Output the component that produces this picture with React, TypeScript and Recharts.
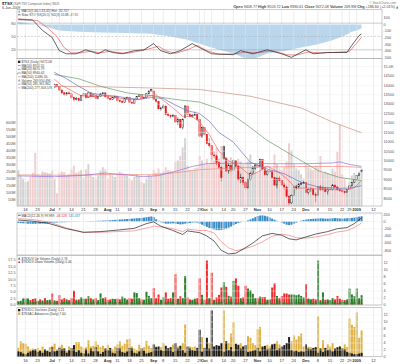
import React from 'react';
import { ComposedChart, Bar, Line, Area, XAxis, YAxis, ReferenceLine, Cell } from 'recharts';

const FONT = '"Liberation Sans", Arial, sans-serif';

// $TSX daily sessions, 11-Jun-2008 .. 6-Jan-2009
const OPEN = [
  14600, 14640, 14720, 14900, 14950, 15060, 14990, 14880, 14700, 14720, 14600, 14680, 14350, 14420,
  14350, 13900, 14050,
  13950, 13750, 13600, 13500, 13600, 13550, 13350, 13250, 13300, 13200, 13450, 13550, 13350, 13600, 13400, 13500, 13300, 13400, 13550,
  13600, 13400, 13300, 13250, 13350, 13400, 13200, 13150, 13100, 13300, 13350, 13100, 13050, 13250, 13400, 13500, 13300, 13350, 13550, 13700,
  13700, 13250, 13150, 12750, 12800, 12900, 12450, 12400, 12350, 12400, 12050, 12200, 11750, 12300, 12900, 12450, 12350, 12400, 12450,
  12200, 11300, 11750, 11400, 10900, 10800, 10300, 10250, 9900, 9650, 10750, 10100, 9450, 9750, 9500, 10000, 9700, 9000, 9100, 8850, 8550, 9000, 9300, 9600,
  9760, 9700, 10050, 9550, 9250, 9450, 9400, 9100, 8700, 9050, 8950, 8700, 8600, 8100, 7750, 8150, 8600, 8600, 8750, 8800,
  8850, 8300, 8450, 8500, 8200, 8150, 8600, 8450, 8550, 8350, 8500, 8450, 8700, 8600, 8450, 8400, 8350, 8300, 8450, 8650, 8850, 8990, 9200, 9408,
];
const HIGH = [
  14720, 14760, 14950, 15000, 15100, 15150, 15020, 14900, 14780, 14750, 14740, 14690, 14480, 14520,
  14380, 14100, 14080,
  13980, 13780, 13650, 13650, 13680, 13580, 13400, 13380, 13350, 13480, 13600, 13560, 13620, 13610, 13540, 13510, 13430, 13580, 13650,
  13620, 13420, 13350, 13380, 13450, 13410, 13250, 13200, 13320, 13400, 13360, 13150, 13280, 13430, 13540, 13510, 13400, 13580, 13720, 13820,
  13720, 13300, 13160, 12860, 13000, 12910, 12550, 12450, 12480, 12410, 12300, 12210, 12250, 12950, 12920, 12550, 12480, 12600, 12460,
  12210, 11800, 11780, 11420, 11200, 10820, 10500, 10300, 10100, 9700, 10800, 10150, 9850, 9800, 10050, 10020, 9720, 9300, 9150, 8900, 9050, 9400, 9700, 9800,
  9850, 10100, 10060, 9560, 9500, 9600, 9420, 9120, 9100, 9150, 8960, 8800, 8620, 8150, 8200, 8650, 8700, 8800, 8850, 8900,
  8860, 8500, 8560, 8510, 8300, 8650, 8700, 8600, 8560, 8520, 8550, 8750, 8710, 8620, 8480, 8420, 8380, 8470, 8680, 8870, 9020, 9230, 9330, 9503,
];
const LOW = [
  14560, 14600, 14700, 14850, 14900, 14950, 14820, 14650, 14620, 14560, 14570, 14330, 14300, 14380,
  13850, 13850, 13900,
  13700, 13550, 13450, 13450, 13480, 13300, 13150, 13200, 13150, 13180, 13420, 13300, 13330, 13380, 13370, 13260, 13250, 13380, 13500,
  13350, 13250, 13200, 13220, 13300, 13150, 13100, 13050, 13080, 13260, 13050, 13000, 13020, 13220, 13380, 13260, 13280, 13330, 13520, 13680,
  13200, 13080, 12720, 12650, 12780, 12420, 12350, 12250, 12300, 12000, 11900, 11700, 11650, 12250, 12400, 12300, 12280, 12380, 12150,
  11250, 11200, 11350, 10850, 10700, 10000, 10100, 9750, 9600, 8900, 10050, 9400, 9300, 9400, 9480, 9650, 8950, 8800, 8700, 8450, 8500, 8950, 9250, 9500,
  9600, 9680, 9500, 9200, 9200, 9350, 9050, 8650, 8500, 8900, 8650, 8450, 8050, 7650, 7700, 8150, 8450, 8550, 8700, 8780,
  8250, 8200, 8350, 8150, 7800, 8150, 8400, 8400, 8300, 8200, 8400, 8420, 8550, 8400, 8350, 8300, 8250, 8290, 8440, 8640, 8830, 8980, 9180, 9380,
];
const CLOSE = [
  14650, 14700, 14900, 14930, 15050, 15000, 14880, 14700, 14720, 14600, 14680, 14350, 14420, 14470,
  13900, 14050, 13950,
  13750, 13600, 13500, 13600, 13550, 13350, 13250, 13300, 13200, 13450, 13550, 13350, 13600, 13400, 13500, 13300, 13400, 13550, 13600,
  13400, 13300, 13250, 13350, 13400, 13200, 13150, 13100, 13300, 13350, 13100, 13050, 13250, 13400, 13500, 13300, 13350, 13550, 13700, 13770,
  13250, 13150, 12750, 12800, 12900, 12450, 12400, 12350, 12400, 12050, 12200, 11750, 12200, 12900, 12450, 12350, 12400, 12450, 12200,
  11300, 11750, 11400, 10900, 10800, 10300, 10250, 9900, 9650, 9100, 10100, 9450, 9750, 9500, 10000, 9700, 9000, 9100, 8850, 8550, 9000, 9300, 9600, 9760,
  9700, 10050, 9550, 9250, 9450, 9400, 9100, 8700, 9050, 8950, 8700, 8600, 8100, 7750, 8150, 8600, 8600, 8750, 8800, 8850,
  8300, 8450, 8500, 8200, 8150, 8600, 8450, 8550, 8350, 8500, 8450, 8700, 8600, 8450, 8400, 8350, 8300, 8450, 8650, 8850, 8990, 9200, 9290, 9472,
];
// millions of shares
const VOLUME = [
  258, 215, 200, 175, 180, 210, 240, 382, 230, 220, 250, 245, 240, 235,
  255, 200, 95, 240, 250, 245, 220, 230, 265, 290, 240, 250, 260, 205,
  265, 300, 230, 210, 200, 220, 255, 280, 265, 200, 230, 220, 210, 235,
  250, 240, 225, 220, 200, 185, 210, 230, 215, 175, 165, 200, 225, 215,
  260, 240, 270, 235, 250, 280, 260, 255, 245, 320, 330, 360, 420, 486,
  290, 260, 255, 270, 280, 360, 330, 300, 340, 300, 380, 330, 420, 320,
  430, 400, 350, 330, 350, 280, 290, 340, 320, 300, 310, 320, 370, 290,
  310, 240, 280, 270, 290, 250, 240, 260, 370, 300, 270, 260, 280, 320,
  450, 400, 300, 270, 260, 230, 200, 300, 280, 270, 260, 290, 280, 360,
  240, 250, 240, 230, 270, 250, 390, 584, 230, 200, 110, 180, 220, 240,
  200, 250, 270,
];

const DATE_TICKS: [number, string][] = [
  [3, '16'], [8, '23'], [14, 'Jul'], [17, '7'], [22, '14'], [27, '21'], [32, '28'],
  [37, 'Aug'], [41, '11'], [46, '18'], [51, '25'], [56, 'Sep'], [60, '8'], [65, '15'],
  [70, '22'], [75, '29'], [77, 'Oct'], [80, '6'], [85, '14'], [89, '20'], [94, '27'],
  [99, 'Nov'], [104, '10'], [109, '17'], [114, '24'], [119, 'Dec'], [124, '8'], [129, '15'],
  [134, '22'], [137, '29'], [140, '2009'], [147, '12'],
];
const MONTHS = ['Jul', 'Aug', 'Sep', 'Oct', 'Nov', 'Dec', '2009'];

// price overlays, read at a handful of sessions
const MA10: [number, number][] = [
  [14, 14420], [18, 14000], [22, 13720], [26, 13450], [30, 13400], [34, 13450], [38, 13420], [42, 13320],
  [46, 13230], [50, 13260], [54, 13420], [57, 13500], [60, 13200], [64, 12800], [68, 12350], [72, 12350],
  [75, 12050], [79, 11400], [83, 10500], [87, 10000], [91, 9750], [96, 9200], [100, 9450], [103, 9700],
  [107, 9450], [111, 9050], [115, 8520], [119, 8550], [123, 8500], [127, 8480], [131, 8450], [135, 8440],
  [139, 8560], [142, 8920],
];
const MA20: [number, number][] = [
  [14, 14750], [20, 14350], [25, 13950], [30, 13600], [35, 13480], [40, 13430], [45, 13330], [50, 13250],
  [55, 13350], [60, 13300], [65, 12950], [70, 12650], [75, 12500], [79, 12100], [83, 11500], [89, 10980],
  [96, 9915], [103, 9550], [110, 9300], [117, 8850], [124, 8600], [133, 8520], [138, 8550], [142, 8670],
];
const MA50: [number, number][] = [
  [14, 14600], [25, 14350], [34, 13950], [45, 13600], [55, 13450], [65, 13250], [75, 13110], [82, 12800],
  [89, 12400], [96, 11760], [103, 11070], [110, 10540], [117, 10000], [124, 9470], [133, 9100], [142, 8940],
];
const MA200: [number, number][] = [
  [14, 13950], [35, 13920], [55, 13860], [75, 13780], [96, 13420], [117, 12800], [130, 12050], [142, 11480],
];
const VOL_MA50: [number, number][] = [
  [0, 218], [15, 212], [27, 222], [36, 238], [45, 225], [52, 212], [58, 220], [66, 255], [72, 285],
  [78, 305], [90, 308], [100, 306], [110, 304], [120, 305], [130, 310], [133, 318], [137, 300], [142, 285],
];
const VOL_MA200: [number, number][] = [
  [0, 225], [20, 222], [40, 228], [55, 226], [65, 240], [75, 262], [90, 275], [105, 282], [120, 285], [135, 285], [142, 278],
];

// top panel: slow stochastic (left scale) and shaded histogram (right scale)
const STO_K: [number, number][] = [
  [0, 88], [6, 87], [10, 64], [14, 48], [17, 18], [20, 11], [24, 11], [28, 20], [33, 11], [36, 20], [39, 14],
  [43, 11], [48, 18], [52, 20], [56, 34], [59, 18], [63, 11], [67, 18], [72, 34], [75, 25], [80, 11], [89, 9],
  [92, 18], [97, 11], [103, 20], [109, 11], [113, 3], [119, 20], [122, 11], [128, 14], [136, 14], [138, 30],
  [141, 52], [142, 56],
];
const STO_D: [number, number][] = [
  [0, 90], [8, 86], [12, 70], [16, 50], [19, 25], [22, 13], [26, 13], [30, 17], [34, 13], [38, 17], [41, 14],
  [45, 12], [50, 17], [54, 22], [58, 28], [61, 18], [65, 12], [70, 20], [74, 30], [78, 18], [83, 10], [90, 11],
  [94, 15], [99, 13], [105, 18], [111, 9], [115, 8], [120, 15], [125, 13], [130, 14], [137, 16], [140, 35], [142, 48],
];
const TOP_HIST: [number, number][] = [
  [0, 40], [5, 10], [8, 0], [12, -40], [17, -90], [25, -110], [34, -120], [45, -130], [55, -140], [63, -180],
  [70, -230], [75, -290], [82, -370], [89, -440], [94, -515], [98, -515], [103, -440], [110, -400], [117, -350],
  [124, -300], [130, -240], [135, -170], [138, -110], [140, -90], [142, -60],
];

// MACD(12,26,9)
const MACD: [number, number][] = [
  [0, 40], [6, 10], [13, -60], [20, -200], [27, -300], [34, -280], [41, -240], [48, -190], [53, -60], [56, -10],
  [59, -130], [64, -250], [68, -360], [70, -260], [75, -310], [78, -400], [81, -540], [84, -800], [87, -900],
  [90, -880], [93, -770], [97, -600], [101, -400], [105, -330], [109, -380], [112, -480], [115, -510], [119, -430],
  [123, -350], [128, -280], [132, -200], [136, -170], [139, -60], [142, 100],
];
const SIGNAL: [number, number][] = [
  [0, 80], [6, 55], [13, -20], [20, -180], [27, -300], [34, -300], [41, -280], [48, -260], [53, -180], [56, -130],
  [59, -150], [64, -200], [68, -280], [70, -210], [75, -250], [78, -250], [81, -320], [84, -560], [87, -730],
  [90, -810], [93, -765], [97, -690], [101, -565], [105, -410], [109, -350], [112, -380], [115, -450], [119, -460],
  [123, -430], [128, -365], [132, -290], [136, -255], [139, -170], [142, -46],
];
const HIST = [
  -40, -45, -50, -55, -60, -62, -65, -65, -62, -60, -55, -50, -45, -40,
  -35, -30, -28, -25, -22, -20, -18, -15, -12, -10, -8, -5, -3,
  0, 5, 10, 12, 15, 18, 20, 22, 25, 28, 30, 35,
  40, 45, 50, 55, 60, 65, 70, 75, 80, 85, 90, 95, 100, 110, 120, 130, 140, 120,
  60, 20, -20, -40, -60, -60, -55,
  -50, -60, -70, -80, -75, -60, -50, -40, -30, -25, -30,
  -60, -90, -120, -150, -180, -200, -220, -240, -240, -235, -220, -200, -170, -140, -100,
  -70, -40, -20, -5, 10, 30, 60, 90,
  120, 150, 165, 170, 160, 140, 110, 80, 50, 20, 0,
  -30, -60, -90, -100, -90, -60, -30, 0,
  20, 40, 55, 65, 70, 75, 80, 85, 90, 85, 80, 80, 85, 90, 95, 90, 85, 80, 85, 90, 95, 100, 110,
  120, 135, 146,
];

// up / down volume panel
const UP_VOL = [
  1.0, 1.2, 1.9, 1.9, 1.9, 0.8, 0.8, 0.9, 1.2, 0.8,
  1.3, 0.7, 1.4, 1.5, 0.6, 1.3, 0.7, 0.6, 0.8, 0.9,
  1.6, 0.9, 0.8, 0.5, 1.5, 0.9, 2.2, 1.8, 0.8, 2.5,
  0.9, 1.6, 0.8, 1.4, 3.3, 2.0, 0.8, 0.9, 1.0, 1.8,
  1.7, 0.8, 0.9, 2.4, 2.0, 1.6, 0.7, 0.8, 3.6, 3.4,
  2.0, 0.8, 1.5, 3.8, 2.6, 2.0, 0.5, 0.8, 0.6, 1.5,
  2.3, 0.6, 1.0, 0.9, 3.6, 0.5, 1.8, 0.6, 2.0, 8.3,
  0.7, 1.0, 1.5, 1.8, 0.7, 0.5, 2.9, 0.7, 0.5, 2.0,
  0.5, 1.3, 0.7, 0.8, 1.0, 6.5, 0.6, 2.6, 1.0, 6.9,
  0.6, 0.7, 2.0, 0.9, 0.6, 4.7, 4.2, 3.2, 2.0, 0.9,
  2.4, 0.6, 0.7, 1.5, 1.4, 0.6, 0.5, 2.6, 1.2, 0.7,
  0.8, 0.6, 0.5, 3.0, 3.0, 2.8, 3.0, 2.6, 2.2, 0.5,
  1.8, 1.6, 0.7, 1.0, 12.7, 0.9, 3.6, 0.8, 1.6, 1.4,
  2.0, 0.8, 0.6, 0.8, 0.9, 0.9, 1.6, 4.7, 3.0, 2.5,
  4.7, 2.0, 2.8,
];
const DOWN_VOL = [
  1.0, 0.5, 0.6, 0.7, 0.6, 1.4, 1.7, 1.9, 1.0, 1.6,
  0.8, 2.0, 1.0, 0.9, 3.3, 0.9, 1.2, 2.8, 1.6, 2.0,
  0.8, 1.4, 2.0, 4.1, 1.0, 1.6, 0.6, 0.7, 1.8, 0.6,
  2.0, 0.9, 2.0, 1.0, 0.6, 1.2, 2.2, 1.5, 1.6, 0.9,
  0.8, 1.8, 1.6, 0.8, 0.7, 1.0, 2.0, 1.8, 0.6, 0.7,
  1.0, 1.6, 1.0, 0.6, 0.8, 0.9, 4.8, 2.0, 3.0, 1.2,
  1.0, 3.6, 1.8, 2.0, 0.8, 8.8, 1.5, 2.5, 1.0, 0.8,
  2.2, 1.6, 1.2, 1.0, 2.0, 7.6, 0.8, 1.5, 12.7, 1.6,
  9.2, 1.5, 2.2, 2.9, 5.0, 1.5, 5.2, 1.0, 2.4, 0.8,
  7.6, 5.5, 1.2, 2.2, 5.5, 0.7, 0.8, 0.9, 1.0, 2.0,
  0.8, 2.3, 2.3, 1.0, 1.6, 5.0, 6.2, 1.2, 2.0, 2.6,
  3.3, 3.3, 3.0, 0.8, 0.6, 1.0, 0.8, 0.9, 1.0, 6.0,
  1.8, 1.5, 1.8, 1.6, 0.5, 1.4, 0.8, 1.5, 1.2, 1.3,
  0.9, 1.6, 2.6, 1.8, 1.5, 1.4, 0.9, 0.6, 0.8, 0.9,
  0.6, 1.2, 0.5,
];

// advances (gold) / declines (black) panel
const ADV = [
  2.6, 4.5, 4.0, 3.8, 3.0, 2.2, 2.4, 1.8, 2.6, 2.0,
  3.0, 2.0, 1.5, 2.8, 3.2, 3.8, 2.2, 3.0, 3.5, 2.5,
  1.8, 3.0, 2.5, 3.4, 4.3, 4.3, 3.0, 2.5, 2.8, 4.8,
  3.0, 3.2, 4.5, 3.5, 2.8, 3.2, 2.4, 3.5, 2.5, 2.2,
  3.0, 3.6, 4.5, 3.2, 3.8, 5.0, 5.2, 3.0, 2.4, 2.0,
  3.5, 2.5, 2.8, 4.6, 3.2, 2.6, 2.0, 3.0, 2.2, 2.8,
  4.0, 2.0, 2.5, 2.2, 3.6, 2.0, 3.0, 2.2, 4.0, 9.3,
  2.4, 3.0, 2.8, 3.0, 2.4, 2.2, 5.7, 2.5, 2.0, 4.0,
  1.8, 3.0, 2.6, 2.2, 2.5, 13.3, 2.5, 4.0, 6.7, 10.0,
  2.5, 2.8, 4.0, 3.0, 2.2, 6.0, 5.5, 4.0, 3.4, 8.0,
  8.6, 2.6, 2.8, 3.5, 3.2, 2.5, 2.0, 4.5, 3.6, 2.4,
  2.6, 2.0, 2.4, 4.5, 6.2, 5.0, 6.0, 6.7, 3.0, 2.0,
  3.0, 2.8, 2.4, 2.8, 11.6, 2.5, 4.8, 2.5, 3.6, 3.0,
  4.0, 2.4, 2.5, 3.0, 2.6, 3.6, 2.8, 11.0, 9.2, 8.6,
  12.7, 5.5, 7.6,
];
const DEC = [
  1.6, 1.4, 1.0, 0.8, 1.2, 1.6, 2.0, 2.2, 1.5, 1.8,
  1.2, 2.2, 1.8, 1.4, 2.8, 1.6, 1.8, 2.6, 2.2, 2.4,
  1.2, 2.0, 2.5, 3.4, 1.4, 2.0, 1.2, 1.0, 2.2, 1.0,
  2.4, 1.6, 2.8, 1.6, 0.9, 1.4, 2.4, 2.0, 2.6, 1.2,
  1.0, 2.5, 2.4, 1.4, 1.2, 1.6, 2.6, 2.4, 1.2, 1.0,
  1.6, 2.4, 1.8, 1.0, 1.2, 1.4, 3.6, 2.8, 3.0, 2.0,
  1.8, 3.2, 2.5, 2.8, 1.4, 4.0, 2.4, 3.2, 2.0, 1.2,
  3.0, 2.4, 2.0, 1.8, 2.6, 7.8, 1.5, 2.6, 5.5, 2.4,
  13.3, 3.0, 3.4, 3.2, 4.0, 1.5, 4.5, 2.0, 2.8, 1.6,
  3.8, 3.5, 2.4, 3.0, 3.4, 1.4, 1.6, 1.8, 2.0, 2.6,
  1.6, 3.0, 3.2, 2.2, 2.4, 3.6, 3.8, 2.0, 2.4, 3.0,
  3.4, 4.0, 5.7, 2.0, 1.6, 1.8, 1.4, 1.6, 1.5, 3.6,
  2.4, 2.2, 2.6, 2.8, 1.2, 2.4, 1.4, 2.6, 2.0, 2.2,
  1.6, 2.4, 2.8, 3.0, 2.4, 2.2, 1.4, 1.2, 1.0, 0.8,
  0.8, 1.0, 1.2,
];

const PRICE_TICKS = [8000, 8500, 9000, 9500, 10000, 10500, 11000, 11500, 12000, 12500, 13000, 13500, 14000, 14500, 15000];
const VOL_TICKS = [50, 100, 150, 200, 250, 300, 350, 400, 450, 500, 550, 600];
const STO_TICKS = [20, 50, 80];
const TOP_R_TICKS = [100, 0, -100, -200, -300, -400, -500];
const MACD_TICKS = [200, 0, -200, -400, -600, -800];
const BREADTH_TICKS = [0, 2, 4, 6, 8, 10, 12];
const UPDN_L_TICKS = [0, 2.5, 5, 7.5, 10, 12.5, 15, 17.5];

const N = CLOSE.length;
const FUTURE = 8; // empty sessions to the right of the last bar

const rows: any[] = Array.from({ length: N + FUTURE }, (_, i) => {
  const r: any = { i };
  if (i < N) {
    r.o = OPEN[i];
    r.h = HIGH[i];
    r.l = LOW[i];
    r.c = CLOSE[i];
    r.pc = i > 0 ? CLOSE[i - 1] : OPEN[i];
    r.rng = [LOW[i], HIGH[i]];
    r.vol = VOLUME[i];
    r.hist = HIST[i];
    r.up = UP_VOL[i];
    r.dn = DOWN_VOL[i];
    r.adv = ADV[i];
    r.dec = DEC[i];
  }
  return r;
});
const put = (key: string, list: [number, number][]) => list.forEach(([i, v]) => { rows[i][key] = v; });
put('ma10', MA10);
put('ma20', MA20);
put('ma50', MA50);
put('ma200', MA200);
put('vma50', VOL_MA50);
put('vma200', VOL_MA200);
put('k', STO_K);
put('d', STO_D);
put('th', TOP_HIST);
put('macd', MACD);
put('sig', SIGNAL);

const TICK_LABEL = new Map(DATE_TICKS);

const AX: any = {
  tickLine: false,
  axisLine: false,
  tickSize: 0,
  tickMargin: 1.5,
  allowDataOverflow: true,
  interval: 0,
  tick: { fontSize: 3.8, fill: '#555', fontFamily: FONT },
};

const DateTick = (props: any) => {
  const { x, y, payload } = props;
  const label = TICK_LABEL.get(payload?.value);
  if (!label) return <g />;
  return (
    <text x={x} y={y + 4.8} textAnchor="middle" fontSize={4} fill="#333" fontFamily={FONT}
      fontWeight={MONTHS.includes(label) ? 700 : 400}>
      {label}
    </text>
  );
};

const Candle = (props: any) => {
  const { x, y, width, height, payload } = props;
  if (!payload || payload.c == null) return <g />;
  const { o, h, l, c, pc } = payload;
  const top = Math.min(y, y + height);
  const bottom = Math.max(y, y + height);
  const py = (v: number) => top + ((h - v) / (h - l)) * (bottom - top);
  const cx = x + width / 2;
  const bw = Math.max(1.3, width * 0.7);
  const bTop = py(Math.max(o, c));
  const bH = Math.max(0.5, py(Math.min(o, c)) - bTop);
  const col = c < pc ? '#e31a1a' : '#111';
  const hollow = c > o;
  return (
    <g>
      <line x1={cx} x2={cx} y1={top} y2={bottom} stroke={col} strokeWidth={0.5} />
      <rect x={cx - bw / 2} y={bTop} width={bw} height={bH} fill={hollow ? '#fff' : col} stroke={col} strokeWidth={0.45} />
    </g>
  );
};

const vGrid = (yAxisId: string) =>
  DATE_TICKS.map(([t]) => (
    <ReferenceLine key={`v${t}`} xAxisId="x" yAxisId={yAxisId} x={t} stroke="#e2e2e2" strokeWidth={0.6} />
  ));
const hGrid = (yAxisId: string, ticks: number[], color = '#ececec') =>
  ticks.map((t) => (
    <ReferenceLine key={`h${t}`} xAxisId="x" yAxisId={yAxisId} y={t} stroke={color} strokeWidth={0.5} />
  ));

const W = 400;
const M0 = { top: 0, right: 0, bottom: 0, left: 0 };
const MR = { top: 0, right: 0, bottom: 0, left: 17 };

const LegendRow = ({ x, y, icon, color, children }: any) => (
  <g>
    {icon === 'line' && <line x1={x} x2={x + 2.6} y1={y - 1.1} y2={y - 1.1} stroke={color} strokeWidth={0.7} />}
    {icon === 'tri' && <path d={`M${x} ${y} L${x + 1.2} ${y - 2.4} L${x + 2.4} ${y} Z`} fill={color} />}
    {icon === 'sq' && <rect x={x} y={y - 2.3} width={2.3} height={2.3} fill={color} />}
    <text x={x + 3.4} y={y} fontSize={3.2} fill="#444" fontFamily={FONT}>{children}</text>
  </g>
);

export default function App() {
  return (
    <div style={{ position: 'absolute', left: 0, top: 0, width: 400, height: 364, background: '#fff', fontFamily: FONT, overflow: 'hidden' }}>
      {/* stochastic + shaded histogram */}
      <div style={{ position: 'absolute', left: 0, top: 9.5 }}>
        <ComposedChart width={W} height={49} data={rows} margin={M0}>
          <XAxis xAxisId="x" dataKey="i" type="category" scale="band" hide />
          <YAxis yAxisId="k" domain={[-0.7, 109.7]} ticks={STO_TICKS} width={17} {...AX} />
          <YAxis yAxisId="m" orientation="right" domain={[-523, 220]} ticks={TOP_R_TICKS} width={18} {...AX} />
          {vGrid('k')}
          <Area xAxisId="x" yAxisId="m" dataKey="th" baseValue={0} connectNulls type="linear"
            fill="#b3d1ea" fillOpacity={0.9} stroke="none" isAnimationActive={false} />
          <ReferenceLine xAxisId="x" yAxisId="k" y={80} stroke="#999" strokeWidth={0.5} />
          <ReferenceLine xAxisId="x" yAxisId="k" y={50} stroke="#aaa" strokeWidth={0.5} strokeDasharray="2 1.5" />
          <ReferenceLine xAxisId="x" yAxisId="k" y={20} stroke="#999" strokeWidth={0.5} />
          <Line xAxisId="x" yAxisId="k" dataKey="d" connectNulls dot={false} stroke="#f04040" strokeWidth={0.6} isAnimationActive={false} />
          <Line xAxisId="x" yAxisId="k" dataKey="k" connectNulls dot={false} stroke="#222" strokeWidth={0.7} isAnimationActive={false} />
        </ComposedChart>
      </div>

      {/* price + volume */}
      <div style={{ position: 'absolute', left: 0, top: 58.5 }}>
        <ComposedChart width={W} height={155.5} data={rows} margin={M0} barCategoryGap="12%">
          <XAxis xAxisId="x" dataKey="i" type="category" scale="band" interval={0} tick={<DateTick />}
            tickLine={false} axisLine={false} tickSize={0} tickMargin={0} height={8} />
          <XAxis xAxisId="xv" dataKey="i" type="category" scale="band" hide />
          <YAxis yAxisId="v" domain={[0, 1050]} ticks={VOL_TICKS} width={17} tickFormatter={(v: number) => `${v}M`} {...AX} />
          <YAxis yAxisId="p" orientation="right" domain={[7559, 15400]} ticks={PRICE_TICKS} width={18}
            tickFormatter={(v: number) => (v === 15000 ? '15.0K' : `${v}`)} {...AX} />
          {vGrid('p')}
          {hGrid('p', PRICE_TICKS, '#efefef')}
          <Bar xAxisId="xv" yAxisId="v" dataKey="vol" isAnimationActive={false}>
            {rows.map((r) => (
              <Cell key={r.i} fill={r.c != null && r.c < r.pc ? '#f3cdcd' : '#d2d2d2'} />
            ))}
          </Bar>
          <Line xAxisId="x" yAxisId="v" dataKey="vma200" connectNulls dot={false} stroke="#f08a7a" strokeWidth={0.7} isAnimationActive={false} />
          <Line xAxisId="x" yAxisId="v" dataKey="vma50" connectNulls dot={false} stroke="#9a70d8" strokeWidth={0.7} isAnimationActive={false} />
          <Bar xAxisId="x" yAxisId="p" dataKey="rng" shape={Candle} isAnimationActive={false} />
          <Line xAxisId="x" yAxisId="p" dataKey="ma200" connectNulls dot={false} stroke="#c8907c" strokeWidth={0.7} isAnimationActive={false} />
          <Line xAxisId="x" yAxisId="p" dataKey="ma50" connectNulls dot={false} stroke="#6a9a6a" strokeWidth={0.7} isAnimationActive={false} />
          <Line xAxisId="x" yAxisId="p" dataKey="ma20" connectNulls dot={false} stroke="#6b6fc0" strokeWidth={0.7} isAnimationActive={false} />
          <Line xAxisId="x" yAxisId="p" dataKey="ma10" connectNulls dot={false} stroke="#f05050" strokeWidth={0.6} isAnimationActive={false} />
        </ComposedChart>
      </div>

      {/* MACD */}
      <div style={{ position: 'absolute', left: 0, top: 213 }}>
        <ComposedChart width={W} height={42} data={rows} margin={MR} barCategoryGap="15%">
          <XAxis xAxisId="x" dataKey="i" type="category" scale="band" hide />
          <YAxis yAxisId="m" orientation="right" domain={[-930, 236]} ticks={MACD_TICKS} width={18} {...AX} />
          {vGrid('m')}
          {hGrid('m', MACD_TICKS)}
          <Bar xAxisId="x" yAxisId="m" dataKey="hist" fill="#3a8cc6" isAnimationActive={false} />
          <Line xAxisId="x" yAxisId="m" dataKey="sig" connectNulls dot={false} stroke="#f46a6a" strokeWidth={0.6} isAnimationActive={false} />
          <Line xAxisId="x" yAxisId="m" dataKey="macd" connectNulls dot={false} stroke="#222" strokeWidth={0.7} isAnimationActive={false} />
        </ComposedChart>
      </div>

      {/* up / down volume */}
      <div style={{ position: 'absolute', left: 0, top: 256 }}>
        <ComposedChart width={W} height={52} data={rows} margin={{ top: 0, right: 0, bottom: 3, left: 0 }} barCategoryGap="15%">
          <XAxis xAxisId="x" dataKey="i" type="category" scale="band" hide />
          <XAxis xAxisId="x2" dataKey="i" type="category" scale="band" hide />
          <YAxis yAxisId="l" domain={[0, 19]} ticks={UPDN_L_TICKS} width={17} tickFormatter={(v: number) => v.toFixed(1)} {...AX} />
          <YAxis yAxisId="r" orientation="right" domain={[0, 14]} ticks={BREADTH_TICKS} width={18} {...AX} />
          {vGrid('r')}
          {hGrid('r', BREADTH_TICKS)}
          <Bar xAxisId="x2" yAxisId="r" dataKey="dn" fill="#ee2a2a" isAnimationActive={false} />
          <Bar xAxisId="x" yAxisId="r" dataKey="up" fill="#2b7d2b" isAnimationActive={false} />
        </ComposedChart>
      </div>

      {/* advances / declines */}
      <div style={{ position: 'absolute', left: 0, top: 307.7 }}>
        <ComposedChart width={W} height={57} data={rows} margin={MR} barCategoryGap="15%">
          <XAxis xAxisId="x" dataKey="i" type="category" scale="band" interval={0} tick={<DateTick />}
            tickLine={false} axisLine={false} tickSize={0} tickMargin={0} height={8} />
          <XAxis xAxisId="x2" dataKey="i" type="category" scale="band" hide />
          <YAxis yAxisId="r" orientation="right" domain={[0, 14]} ticks={BREADTH_TICKS} width={18} {...AX} />
          {vGrid('r')}
          {hGrid('r', BREADTH_TICKS)}
          <Bar xAxisId="x2" yAxisId="r" dataKey="adv" fill="#e0b244" isAnimationActive={false} />
          <Bar xAxisId="x" yAxisId="r" dataKey="dec" fill="#1c1c1c" isAnimationActive={false} />
        </ComposedChart>
      </div>

      {/* frames, header and legends */}
      <svg width={400} height={364} style={{ position: 'absolute', left: 0, top: 0, pointerEvents: 'none' }}>
        <g fill="none" stroke="#a8a8a8" strokeWidth={0.6}>
          <rect x={17} y={9.5} width={365} height={49} />
          <rect x={17} y={58.5} width={365} height={147.5} />
          <rect x={17} y={213} width={365} height={42} />
          <rect x={17} y={255.5} width={365} height={49.5} />
          <rect x={17} y={307.7} width={365} height={49} />
        </g>

        <text x={2} y={4.6} fontFamily={FONT}>
          <tspan fontSize={4.2} fontWeight={700} fill="#222">$TSX</tspan>
          <tspan fontSize={3} fill="#666"> (S&amp;P/TSX Composite Index) INDX</tspan>
        </text>
        <text x={2} y={8.6} fontSize={3.6} fill="#444" fontFamily={FONT}>6-Jan-2009</text>
        <text x={396} y={4} fontSize={3.1} fill="#777" textAnchor="end" fontFamily={FONT}>© StockCharts.com</text>
        <text x={395} y={8.4} fontSize={3.7} fill="#444" textAnchor="end" fontFamily={FONT}>
          <tspan fontWeight={700}>Open</tspan> 9408.77 <tspan fontWeight={700}>High</tspan> 9503.72{' '}
          <tspan fontWeight={700}>Low</tspan> 9380.61 <tspan fontWeight={700}>Close</tspan> 9472.08{' '}
          <tspan fontWeight={700}>Volume</tspan> 269.9M <tspan fontWeight={700}>Chg</tspan> +186.60 (+2.01%)
        </text>
        <path d="M396 8.4 L397.2 6 L398.4 8.4 Z" fill="#2a9a2a" />

        <LegendRow x={18} y={12.4} icon="tri" color="#6fa8d8">MACD(1,60,1,33,45) Hist -32.757</LegendRow>
        <g>
          <line x1={18} x2={20.6} y1={14.8} y2={14.8} stroke="#222" strokeWidth={0.7} />
          <text x={21.4} y={15.9} fontSize={3.2} fill="#444" fontFamily={FONT}>
            Slow STO %K(20,5) %D(3) 55.88, <tspan fill="#e33">47.85</tspan>
          </text>
        </g>

        <rect x={17.4} y={59.2} width={37} height={31} fill="#fff" fillOpacity={0.94} />
        <LegendRow x={18} y={63} icon="sq" color="#222">$TSX (Daily) 9472.08</LegendRow>
        <LegendRow x={18} y={66.7} icon="line" color="#f05050">MA(10) 8920.55</LegendRow>
        <LegendRow x={18} y={70.4} icon="line" color="#6b6fc0">MA(20) 8670.79</LegendRow>
        <LegendRow x={18} y={74.1} icon="line" color="#6a9a6a">MA(50) 8940.42</LegendRow>
        <LegendRow x={18} y={77.8} icon="line" color="#c8907c">MA(200) 11480.55</LegendRow>
        <LegendRow x={18} y={81.5} icon="tri" color="#999">Volume 269,950,496</LegendRow>
        <LegendRow x={18} y={85.2} icon="line" color="#9a70d8">MA(50) 285,361,862</LegendRow>
        <LegendRow x={18} y={88.9} icon="line" color="#f08a7a">MA(200) 277,303,576</LegendRow>

        <g>
          <line x1={18} x2={20.6} y1={215.3} y2={215.3} stroke="#222" strokeWidth={0.7} />
          <text x={21.4} y={216.5} fontSize={3.2} fill="#444" fontFamily={FONT}>
            MACD(12,26,9) 99.989, <tspan fill="#e33">-46.528</tspan>, <tspan fill="#2a7fc0">145.437</tspan>
          </text>
        </g>

        <LegendRow x={18} y={259.6} icon="tri" color="#2b7d2b">$TSXUV Up Volume (Daily) 2.76</LegendRow>
        <LegendRow x={18} y={263.1} icon="tri" color="#ee2a2a">$TSXDV Down Volume (Daily) 0.46</LegendRow>

        <LegendRow x={18} y={311.3} icon="sq" color="#1c1c1c">$TSXDC Declines (Daily) 1.21</LegendRow>
        <LegendRow x={18} y={314.8} icon="sq" color="#e0b244">$TSXAC Advances (Daily) 7.60</LegendRow>
      </svg>
    </div>
  );
}
